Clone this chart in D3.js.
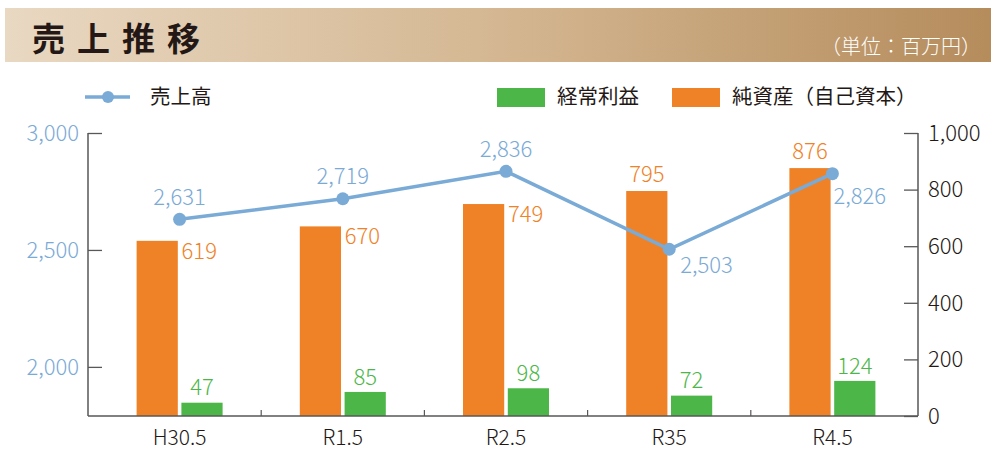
<!DOCTYPE html>
<html><head><meta charset="utf-8">
<script src="https://cdn.jsdelivr.net/npm/d3@7"></script>
<style>body{margin:0;background:#fff}svg{display:block}text{font-family:"Noto Sans CJK JP","Noto Sans",sans-serif}</style>
</head><body>
<svg id="c" width="1002" height="466"></svg>
<script>
const categories = ["H30.5","R1.5","R2.5","R35","R4.5"];
const sales = [2631,2719,2836,2503,2826];
const ordinaryProfit = [47,85,98,72,124];
const netAssets = [619,670,749,795,876];
const leftTicks = [2000,2500,3000];
const rightTicks = [0,200,400,600,800,1000];
const title = "売上推移";
const unit = "（単位：百万円）";
const legendNames = ["売上高","経常利益","純資産（自己資本）"];
// label placements
const assetLabelPos = ["r","r","r","t","t"];
const salesLabelPos = ["t","t","t","br","b"];

const C_BLUE="#7aaad6", C_GREEN="#4cb748", C_ORANGE="#ef8227", C_AXIS="#595757";
const NUM_W = 300, NUM_S = 22;
const svg = d3.select("#c");

// title bar
const defs = svg.append("defs");
const g = defs.append("linearGradient").attr("id","tg");
g.append("stop").attr("offset","0").attr("stop-color","#e9d8c2");
g.append("stop").attr("offset","0.5").attr("stop-color","#d4b792");
g.append("stop").attr("offset","1").attr("stop-color","#b58c5c");
svg.append("rect").attr("x",5).attr("y",8).attr("width",986).attr("height",54).attr("fill","url(#tg)");
svg.append("text").attr("x",32).attr("y",51).attr("font-size",33).attr("font-weight",700)
  .attr("letter-spacing",12).attr("fill","#231815").text(title);
svg.append("text").attr("x",981).attr("y",54).attr("text-anchor","end").attr("font-size",20).attr("font-weight",300)
  .attr("fill","#fff").text(unit);

const x = d3.scaleBand().domain(categories).range([98,914]);
const xi = d3.scaleBand().domain(["a","g"]).range([-43,43]).paddingInner(0.08);
const yL = d3.scaleLinear().domain([1790,3000]).range([416,133]);
const yR = d3.scaleLinear().domain([0,1000]).range([416,133]);
const cx = c => x(c)+x.bandwidth()/2;

// bars
categories.forEach((c,i)=>{
  svg.append("rect").attr("x",cx(c)+xi("a")).attr("width",xi.bandwidth())
    .attr("y",yR(netAssets[i])).attr("height",yR(0)-yR(netAssets[i])).attr("fill",C_ORANGE);
  svg.append("rect").attr("x",cx(c)+xi("g")).attr("width",xi.bandwidth())
    .attr("y",yR(ordinaryProfit[i])).attr("height",yR(0)-yR(ordinaryProfit[i])).attr("fill",C_GREEN);
});

// axes
const axL = svg.append("g").attr("transform","translate(88,0)")
  .call(d3.axisRight(yL).tickValues(leftTicks).tickSize(14).tickFormat(""));
const axR = svg.append("g").attr("transform","translate(918,0)")
  .call(d3.axisLeft(yR).tickValues(rightTicks).tickSize(14).tickFormat(""));
[axL,axR].forEach(a=>{a.select(".domain").remove();a.selectAll("line").attr("stroke",C_AXIS).attr("stroke-width",1.3);});
svg.append("line").attr("x1",88).attr("x2",88).attr("y1",133).attr("y2",416).attr("stroke",C_AXIS).attr("stroke-width",1.5);
svg.append("line").attr("x1",918).attr("x2",918).attr("y1",133).attr("y2",416).attr("stroke",C_AXIS).attr("stroke-width",1.5);
svg.append("line").attr("x1",88).attr("x2",918).attr("y1",416).attr("y2",416).attr("stroke",C_AXIS).attr("stroke-width",1.5);
categories.slice(1).forEach(c=>{
  svg.append("line").attr("x1",x(c)).attr("x2",x(c)).attr("y1",416).attr("y2",410).attr("stroke",C_AXIS).attr("stroke-width",1.2);
});
const fmt = d3.format(",");
leftTicks.forEach(t=>svg.append("text").attr("x",79).attr("y",yL(t)).attr("dy","0.35em")
  .attr("text-anchor","end").attr("font-size",NUM_S).attr("font-weight",NUM_W).attr("fill",C_BLUE).text(fmt(t)));
rightTicks.forEach(t=>svg.append("text").attr("x",928).attr("y",yR(t)).attr("dy","0.35em")
  .attr("font-size",NUM_S).attr("font-weight",NUM_W).attr("fill","#231815").text(fmt(t)));
categories.forEach(c=>svg.append("text").attr("x",cx(c)).attr("y",445)
  .attr("text-anchor","middle").attr("font-size",21).attr("font-weight",NUM_W).attr("fill","#231815").text(c));

// line
const line = d3.line().x((d,i)=>cx(categories[i])).y(d=>yL(d));
svg.append("path").datum(sales).attr("d",line).attr("fill","none").attr("stroke",C_BLUE).attr("stroke-width",3.5);
sales.forEach((v,i)=>svg.append("circle").attr("cx",cx(categories[i])).attr("cy",yL(v)).attr("r",6.5).attr("fill",C_BLUE));

// labels
const lbl = (xx,yy,anchor,color,t)=>svg.append("text").attr("x",xx).attr("y",yy).attr("dy","0.35em")
  .attr("text-anchor",anchor).attr("font-size",NUM_S).attr("font-weight",NUM_W).attr("fill",color).text(t);
netAssets.forEach((v,i)=>{
  const c=categories[i];
  if(assetLabelPos[i]==="r") lbl(cx(c)+2,yR(v)+10,"start",C_ORANGE,fmt(v));
  else lbl(cx(c)+xi("a")+xi.bandwidth()/2,yR(v)-17,"middle",C_ORANGE,fmt(v));
});
ordinaryProfit.forEach((v,i)=>{
  const c=categories[i];
  lbl(cx(c)+xi("g")+xi.bandwidth()/2,yR(v)-15,"middle",C_GREEN,fmt(v));
});
sales.forEach((v,i)=>{
  const c=categories[i];
  if(salesLabelPos[i]==="t") lbl(cx(c),yL(v)-22,"middle",C_BLUE,fmt(v));
  else if(salesLabelPos[i]==="br") lbl(cx(c)+11,yL(v)+16,"start",C_BLUE,fmt(v));
  else lbl(cx(c)+1,yL(v)+23,"start",C_BLUE,fmt(v));
});

// legend
const LS = 20.5;
svg.append("line").attr("x1",85).attr("x2",130).attr("y1",97).attr("y2",97).attr("stroke",C_BLUE).attr("stroke-width",3.5);
svg.append("circle").attr("cx",108).attr("cy",97).attr("r",6).attr("fill",C_BLUE);
svg.append("text").attr("x",150).attr("y",97).attr("dy","0.35em").attr("font-size",LS).attr("fill","#231815").text(legendNames[0]);
svg.append("rect").attr("x",497).attr("y",88).attr("width",48).attr("height",19).attr("fill",C_GREEN);
svg.append("text").attr("x",557).attr("y",97).attr("dy","0.35em").attr("font-size",LS).attr("fill","#231815").text(legendNames[1]);
svg.append("rect").attr("x",672).attr("y",88).attr("width",48).attr("height",19).attr("fill",C_ORANGE);
svg.append("text").attr("x",732).attr("y",97).attr("dy","0.35em").attr("font-size",LS).attr("fill","#231815").text(legendNames[2]);
</script>
</body></html>
